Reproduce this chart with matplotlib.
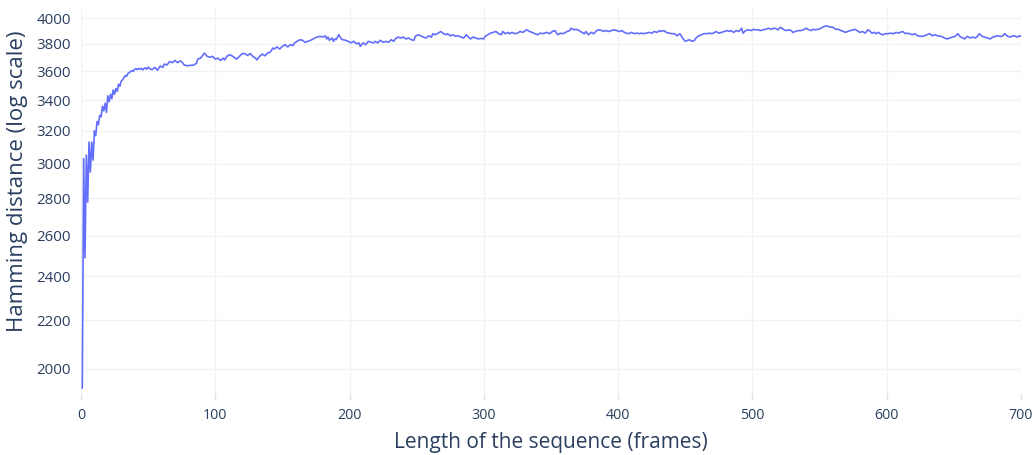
import numpy as np
import matplotlib.pyplot as plt
from matplotlib.ticker import FixedLocator, FuncFormatter, NullLocator

plt.rcParams['font.family'] = ['Open Sans', 'DejaVu Sans']

# sequence length (frames) and the hamming distance measured at that length
frames = [
    1, 2, 3, 4, 5, 6, 7, 8, 9, 10, 11, 12, 13, 14, 15, 16, 17, 18, 19, 20,
    21, 22, 23, 24, 25, 26, 27, 28, 29, 30, 31, 32, 33, 34, 35, 36, 37, 38, 39, 40,
    41, 42, 43, 44, 45, 46, 47, 48, 49, 50,
    51, 53, 55, 57, 59, 61, 62, 64, 66, 68, 70, 72, 74, 75, 77, 79, 81, 84, 86, 87,
    89, 91, 92, 94, 96, 98, 100, 102, 104, 106, 107, 109, 111, 113, 115, 116, 118, 120,
    122, 124, 126, 128, 130, 131, 133, 135, 137, 139, 141, 143, 144, 146, 148, 150,
    152, 154, 156, 158, 159, 161, 163, 165, 167, 169, 171, 173, 174, 176, 178, 180,
    182, 183, 184, 185, 187, 188, 189, 190, 192, 193, 194, 195, 197, 199, 201, 203,
    205, 207, 208, 210, 212, 214, 216, 218, 219, 221, 223, 225, 227, 229, 231, 233,
    234, 236, 238, 240, 242, 244, 246, 248, 249, 251, 253, 255, 257, 259, 261, 262,
    264, 266, 268, 270, 272, 273, 275, 277, 279, 281, 283, 285, 287, 288, 290, 292,
    294, 296, 298, 300, 301, 303, 305, 307, 309, 311, 313, 314, 316, 318, 319, 321,
    323, 325, 327, 329, 331, 332, 334, 336, 338, 340, 342, 344, 345, 347, 349, 351,
    353, 355, 357, 358, 360, 362, 364, 365, 367, 369, 371, 373, 375, 376, 378, 380,
    382, 384, 386, 388, 389, 391, 393, 395, 397, 399, 401, 403, 404, 406, 408, 410,
    412, 414, 416, 417, 419, 421, 423, 425, 427, 429, 431, 432, 434, 436, 438, 440,
    442, 444, 446, 448, 450, 452, 453, 455, 457, 458, 460, 462, 464, 466, 468, 470,
    472, 473, 475, 477, 479, 481, 483, 484, 486, 488, 490, 492, 493, 495, 497, 499,
    501, 502, 504, 506, 508, 510, 512, 514, 516, 517, 519, 521, 523, 525, 527, 529,
    530, 532, 534, 536, 538, 540, 542, 544, 545, 547, 549, 551, 553, 555, 557, 559,
    560, 562, 564, 566, 568, 569, 571, 573, 575, 576, 578, 580, 582, 584, 586, 587,
    589, 591, 592, 594, 595, 597, 599, 601, 603, 605, 607, 609, 610, 612, 614, 615,
    617, 619, 621, 623, 625, 627, 628, 630, 632, 634, 636, 638, 640, 642, 643, 645,
    647, 649, 651, 653, 655, 657, 658, 660, 662, 664, 666, 667, 669, 671, 673, 675,
    677, 679, 681, 682, 684, 686, 688, 690, 692, 694, 696, 697, 699, 700,
]
hamming = [
    1925, 3030, 2490, 3050, 2780, 3130, 2950, 3130, 3020, 3200, 3170, 3260, 3240, 3300, 3290, 3360, 3330, 3380, 3320, 3430,
    3390, 3440, 3410, 3470, 3440, 3480, 3460, 3510, 3495, 3530, 3540, 3555, 3570, 3565, 3585, 3590, 3600, 3605, 3600, 3615,
    3620, 3612, 3620, 3615, 3622, 3610, 3620, 3625, 3615, 3630,
    3620, 3612, 3628, 3608, 3638, 3628, 3652, 3645, 3670, 3662, 3678, 3662, 3675, 3668, 3645, 3640, 3642, 3645, 3658, 3688,
    3695, 3720, 3732, 3708, 3702, 3708, 3688, 3695, 3678, 3695, 3682, 3712, 3720, 3708, 3695, 3688, 3708, 3728,
    3728, 3715, 3728, 3708, 3695, 3682, 3708, 3725, 3712, 3732, 3740, 3770, 3762, 3778, 3762, 3782,
    3795, 3778, 3795, 3788, 3808, 3820, 3832, 3828, 3812, 3820, 3828, 3838, 3845, 3852, 3858, 3852,
    3862, 3838, 3852, 3828, 3845, 3820, 3838, 3832, 3870, 3852, 3838, 3832, 3828, 3820, 3808, 3820,
    3802, 3808, 3782, 3808, 3795, 3820, 3812, 3808, 3820, 3808, 3828, 3812, 3820, 3812, 3832, 3820,
    3838, 3852, 3845, 3852, 3838, 3845, 3832, 3828, 3858, 3870, 3862, 3852, 3845, 3862, 3852, 3878,
    3870, 3882, 3895, 3878, 3870, 3878, 3862, 3870, 3858, 3862, 3852, 3845, 3870, 3858, 3838, 3852,
    3845, 3838, 3842, 3838, 3858, 3870, 3882, 3888, 3895, 3878, 3870, 3895, 3878, 3888, 3878, 3888,
    3878, 3882, 3895, 3888, 3902, 3908, 3895, 3888, 3878, 3870, 3882, 3878, 3882, 3888, 3878, 3895,
    3902, 3870, 3882, 3878, 3882, 3895, 3902, 3920, 3908, 3912, 3902, 3888, 3878, 3895, 3870, 3888,
    3878, 3902, 3908, 3902, 3895, 3902, 3895, 3902, 3908, 3902, 3895, 3902, 3892, 3882, 3878, 3888,
    3878, 3882, 3878, 3882, 3878, 3882, 3888, 3882, 3895, 3888, 3902, 3895, 3902, 3888, 3882, 3878,
    3878, 3862, 3878, 3845, 3820, 3828, 3832, 3820, 3828, 3845, 3862, 3870, 3878, 3878, 3882, 3878,
    3888, 3895, 3882, 3888, 3895, 3902, 3895, 3902, 3888, 3902, 3895, 3920, 3882, 3902, 3908, 3902,
    3912, 3908, 3908, 3902, 3908, 3912, 3920, 3912, 3920, 3920, 3908, 3928, 3912, 3902, 3908, 3902,
    3888, 3895, 3902, 3902, 3908, 3920, 3908, 3902, 3912, 3908, 3912, 3920, 3932, 3938, 3932, 3928,
    3928, 3912, 3912, 3902, 3895, 3888, 3895, 3902, 3908, 3912, 3902, 3888, 3895, 3882, 3908, 3902,
    3882, 3888, 3878, 3888, 3878, 3870, 3878, 3878, 3882, 3878, 3888, 3882, 3888, 3895, 3878, 3882,
    3878, 3870, 3878, 3862, 3858, 3858, 3862, 3870, 3878, 3862, 3870, 3862, 3858, 3852, 3845, 3838,
    3845, 3852, 3858, 3878, 3852, 3845, 3838, 3858, 3845, 3852, 3845, 3852, 3878, 3858, 3852, 3845,
    3838, 3852, 3858, 3862, 3858, 3858, 3878, 3858, 3852, 3862, 3858, 3852, 3862, 3858,
]

xticks = [0, 100, 200, 300, 400, 500, 600, 700]
yticks = [2000, 2200, 2400, 2600, 2800, 3000, 3200, 3400, 3600, 3800, 4000]

text_col = '#2a3f5f'
grid_col = '#f0f2f7'

fig = plt.figure(figsize=(10.34, 4.55), dpi=100)
ax = fig.add_axes([0.0783, 0.1363, 0.9091, 0.8461])

ax.plot(frames, hamming, color='#636efa', lw=1.2, zorder=3)

ax.set_yscale('log')
ax.set_xlim(0, 700)
ax.set_ylim(1906, 4080)

ax.xaxis.set_major_locator(FixedLocator(xticks))
ax.yaxis.set_major_locator(FixedLocator(yticks))
ax.yaxis.set_minor_locator(NullLocator())
ax.yaxis.set_major_formatter(FuncFormatter(lambda v, p: '%d' % round(v)))

ax.grid(True, color=grid_col, lw=1.0, zorder=0)
for sp in ax.spines.values():
    sp.set_visible(False)

ax.tick_params(axis='x', length=5, width=1, color='#dde1e8', pad=6,
               labelsize=10.3, labelcolor=text_col)
ax.tick_params(axis='y', length=0, pad=7, labelsize=10.8, labelcolor=text_col)

ax.set_xlabel('Length of the sequence (frames)', fontsize=15, color=text_col, labelpad=6)
ax.set_ylabel('Hamming distance (log scale)', fontsize=16, color=text_col)
ax.yaxis.set_label_coords(-0.056, 0.55)

fig.savefig('out.png', dpi=100, facecolor='white')
